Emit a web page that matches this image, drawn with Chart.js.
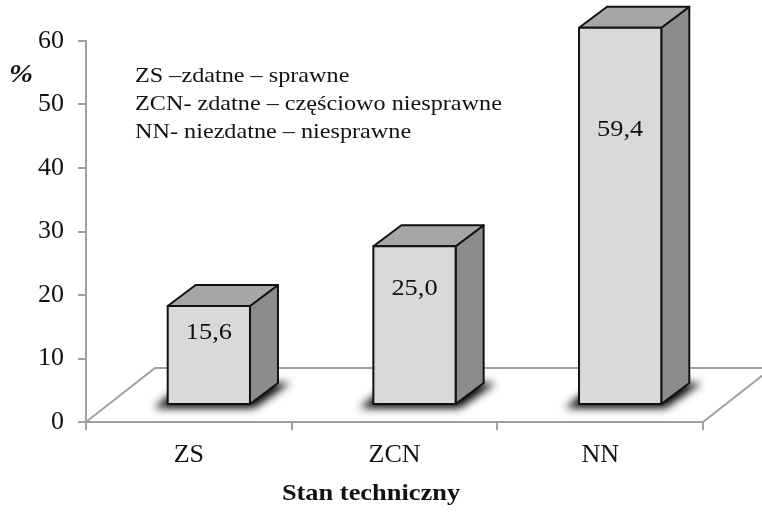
<!DOCTYPE html>
<html>
<head>
<meta charset="utf-8">
<script src="https://cdn.jsdelivr.net/npm/chart.js@4.4.0/dist/chart.umd.min.js"></script>
<style>
  body { margin: 0; background: #fff; }
  #wrap { width: 762px; height: 512px; }
</style>
</head>
<body>
<div id="wrap"><canvas id="chart" width="762" height="512"></canvas></div>
<script>
const categories = ['ZS', 'ZCN', 'NN'];
const shares = [15.6, 25.0, 59.4];
const valueLabels = ['15,6', '25,0', '59,4'];
const legendLines = [
    'ZS \u2013zdatne \u2013 sprawne',
    'ZCN- zdatne \u2013 cz\u0119\u015bciowo niesprawne',
    'NN- niezdatne \u2013 niesprawne'
];

const serif = "'Liberation Serif', 'Times New Roman', serif";

// floor depth and bar position inside it
const floorDx = 69, floorDy = 54;
const barShiftX = 20, barShiftY = 17;
const barDx = 28, barDy = 21;

// draw text a bit wider, like the original
function wideText(ctx, text, x, y, stretch) {
    ctx.save();
    ctx.translate(x, y);
    ctx.scale(stretch, 1);
    ctx.fillText(text, 0, 0);
    ctx.restore();
}

const pseudo3d = {
    id: 'pseudo3d',
    beforeDatasetsDraw(chart) {
        const ctx = chart.ctx;
        const area = chart.chartArea;
        const y0 = chart.scales.y.getPixelForValue(0);
        ctx.save();
        ctx.strokeStyle = '#a0a0a0';
        ctx.lineWidth = 2;
        ctx.beginPath();
        ctx.moveTo(area.left, y0);
        ctx.lineTo(area.left + floorDx, y0 - floorDy);
        ctx.lineTo(area.right + floorDx, y0 - floorDy);
        ctx.lineTo(area.right, y0);
        ctx.stroke();
        ctx.restore();
    },
    afterDatasetsDraw(chart) {
        const ctx = chart.ctx;
        const meta = chart.getDatasetMeta(0);
        meta.data.forEach((bar, i) => {
            const x0 = bar.x - bar.width / 2 + barShiftX;
            const x1 = bar.x + bar.width / 2 + barShiftX;
            const yTop = bar.y - barShiftY;
            const yBase = bar.base - barShiftY;

            // blurred shadow under the bar
            ctx.save();
            ctx.fillStyle = '#000';
            ctx.filter = 'blur(4px)';
            ctx.beginPath();
            ctx.moveTo(x0 - 14, yBase + 4);
            ctx.lineTo(x1 + 4, yBase + 4);
            ctx.lineTo(x1 + barDx + 12, yBase - barDy);
            ctx.lineTo(x0 + barDx - 10, yBase - barDy);
            ctx.closePath();
            ctx.fill();
            ctx.restore();

            ctx.save();
            ctx.lineWidth = 2;
            ctx.lineJoin = 'round';
            ctx.strokeStyle = '#111';

            // side
            ctx.beginPath();
            ctx.moveTo(x1, yTop);
            ctx.lineTo(x1 + barDx, yTop - barDy);
            ctx.lineTo(x1 + barDx, yBase - barDy);
            ctx.lineTo(x1, yBase);
            ctx.closePath();
            ctx.fillStyle = '#8c8c8c';
            ctx.fill();
            ctx.stroke();

            // top
            ctx.beginPath();
            ctx.moveTo(x0, yTop);
            ctx.lineTo(x0 + barDx, yTop - barDy);
            ctx.lineTo(x1 + barDx, yTop - barDy);
            ctx.lineTo(x1, yTop);
            ctx.closePath();
            ctx.fillStyle = '#a6a6a6';
            ctx.fill();
            ctx.stroke();

            // front
            ctx.fillStyle = '#d9d9d9';
            ctx.fillRect(x0, yTop, x1 - x0, yBase - yTop);
            ctx.strokeRect(x0, yTop, x1 - x0, yBase - yTop);

            // value label
            ctx.fillStyle = '#111';
            ctx.font = '24px ' + serif;
            ctx.textAlign = 'center';
            ctx.textBaseline = 'middle';
            wideText(ctx, valueLabels[i], (x0 + x1) / 2, yTop + (yBase - yTop) * 0.27, 1.1);
            ctx.restore();
        });
    },
    afterDraw(chart) {
        const ctx = chart.ctx;
        ctx.save();
        ctx.fillStyle = '#111';
        ctx.textBaseline = 'middle';
        ctx.textAlign = 'left';
        ctx.font = '22px ' + serif;
        legendLines.forEach((line, i) => {
            wideText(ctx, line, 135, 76 + i * 28, 1.1);
        });
        ctx.font = 'bold italic 25px ' + serif;
        wideText(ctx, '%', 9, 76, 1.15);
        ctx.font = 'bold 24px ' + serif;
        ctx.textAlign = 'center';
        wideText(ctx, 'Stan techniczny', 371, 494, 1.1);
        ctx.restore();
    }
};

new Chart(document.getElementById('chart'), {
    type: 'bar',
    data: {
        labels: categories,
        datasets: [{
            data: shares,
            backgroundColor: 'rgba(0,0,0,0)',
            borderWidth: 0,
            barPercentage: 0.5,
            categoryPercentage: 0.8
        }]
    },
    options: {
        responsive: false,
        animation: false,
        layout: { padding: { top: 41, right: 59, left: 0, bottom: 0 } },
        plugins: {
            legend: { display: false },
            tooltip: { enabled: false }
        },
        scales: {
            x: {
                afterFit: (scale) => { scale.height = 90; },
                border: { color: '#a0a0a0', width: 2 },
                grid: { drawOnChartArea: false, tickLength: 8, color: '#a0a0a0', lineWidth: 2, offset: true },
                ticks: { color: '#111', font: { family: serif, size: 26 }, padding: 10 }
            },
            y: {
                min: 0,
                max: 60,
                afterFit: (scale) => { scale.width = 86; },
                border: { color: '#a0a0a0', width: 2 },
                grid: { drawOnChartArea: false, tickLength: 8, color: '#a0a0a0', lineWidth: 2 },
                ticks: { stepSize: 10, color: '#111', font: { family: serif, size: 26 }, padding: 14 }
            }
        }
    },
    plugins: [pseudo3d]
});
</script>
</body>
</html>
